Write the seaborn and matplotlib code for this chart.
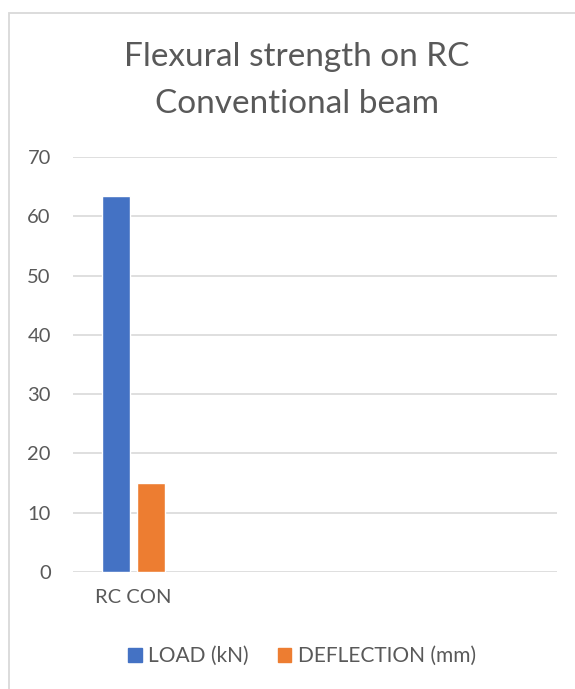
import matplotlib
matplotlib.use("Agg")
import matplotlib.pyplot as plt
from matplotlib.patches import Rectangle
import pandas as pd
import seaborn as sns

# ---- data -------------------------------------------------------
categories = ["RC CON"]
load_kn = [63.4]
deflection_mm = [15.0]
series_names = ["LOAD (kN)", "DEFLECTION (mm)"]
title_lines = ["Flexural strength on RC", "Conventional beam"]
y_ticks = [0, 10, 20, 30, 40, 50, 60, 70]

df = pd.DataFrame({
    "category": categories * 2,
    "series": [series_names[0]] * len(categories) + [series_names[1]] * len(categories),
    "value": load_kn + deflection_mm,
})

# ---- style ------------------------------------------------------
sns.set_theme(style="white")
plt.rcParams["font.family"] = ["Lato", "DejaVu Sans"]
TXT = "#595959"
GRID = "#D9D9D9"
palette = {series_names[0]: "#4472C4", series_names[1]: "#ED7D31"}

W, H = 575, 689
fig = plt.figure(figsize=(W / 100, H / 100), dpi=100)
fig.patch.set_facecolor("white")

# chart border (right/bottom edges fall outside the picture)
fig.patches.append(Rectangle((8.5 / W, -0.1), 1.2, 1 - 12.5 / H + 0.1,
                             transform=fig.transFigure, fill=False,
                             ec=GRID, lw=1.3))

ax = fig.add_axes([73 / W, 1 - 572 / H, (557 - 73) / W, (572 - 157) / H])
sns.barplot(data=df, x="category", y="value", hue="series",
            palette=palette, width=0.58, gap=0.2, ax=ax, legend=False,
            saturation=1)

ax.set_xlim(-0.5, 3.5)
ax.set_ylim(0, 70)
ax.set_yticks(y_ticks)
ax.set_xlabel("")
ax.set_ylabel("")
ax.grid(axis="y", color=GRID, lw=1.2)
ax.set_axisbelow(True)
for s in ax.spines.values():
    s.set_visible(False)
ax.tick_params(axis="both", length=0, colors=TXT, labelsize=14.5)
ax.tick_params(axis="y", pad=16)
ax.tick_params(axis="x", pad=12)

# title
fig.text(297 / W, 1 - 66 / H, title_lines[0], ha="center", va="baseline",
         fontsize=24, color=TXT)
fig.text(297 / W, 1 - 113 / H, title_lines[1], ha="center", va="baseline",
         fontsize=24, color=TXT)

# legend
handles = [Rectangle((0, 0), 1, 1, color=palette[n]) for n in series_names]
fig.legend(handles, series_names, loc="center",
           bbox_to_anchor=(302 / W, 1 - 656 / H), ncol=2, frameon=False,
           fontsize=15, labelcolor=TXT, handlelength=0.65, handleheight=0.65,
           handletextpad=0.3, columnspacing=1.4)

plt.savefig("out.png", dpi=100)
